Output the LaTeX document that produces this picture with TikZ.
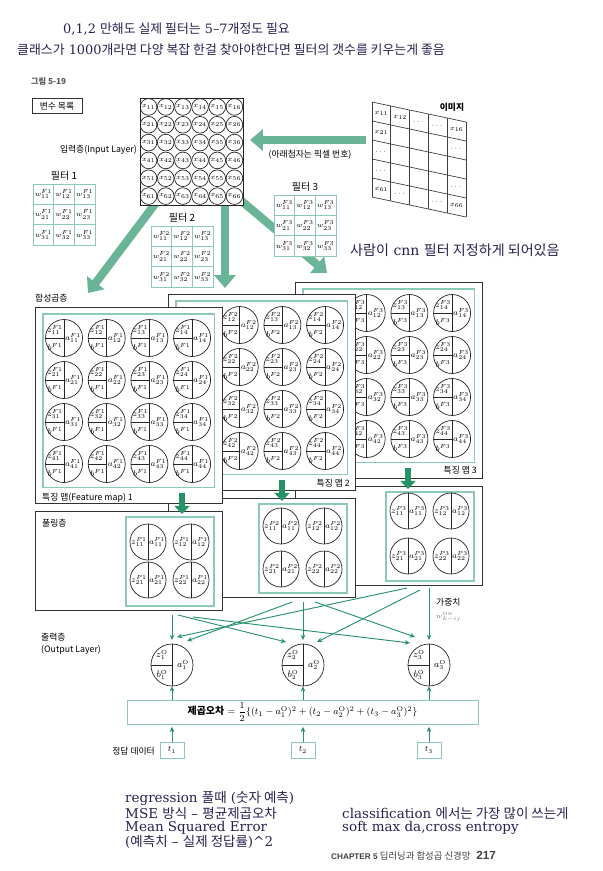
\documentclass[tikz,border=0pt]{standalone}
\usepackage{fontspec}
\usepackage{amsmath}
\setsansfont{Liberation Sans}
\newfontfamily\kr{Noto Sans CJK KR}
\newfontfamily\notefont{DejaVu Serif}
\DeclareMathSizes{6.5}{6.5}{4}{3}
\DeclareMathSizes{7}{7}{4}{3}
\DeclareMathSizes{8}{8}{5}{4}
\usetikzlibrary{arrows.meta}
\usetikzlibrary{calc}

\definecolor{bandgreen}{RGB}{106,180,152}
\definecolor{linegreen}{RGB}{38,146,104}
\definecolor{framegreen}{RGB}{140,202,178}
\definecolor{inkblue}{RGB}{40,32,80}

\begin{document}
\begin{tikzpicture}[x=0.03cm, y=-0.03cm,
  lbl/.style={font=\kr\fontsize{7.5}{10}\selectfont, inner sep=0pt},
  note/.style={font=\notefont\fontsize{11}{13}\selectfont, text=inkblue, inner sep=0pt, anchor=west},
  bignote/.style={note, font=\notefont\fontsize{11.5}{13}\selectfont},
  pixel/.style={circle, draw=black!85, line width=0.6pt, minimum size=0.5cm, inner sep=0pt, font=\fontsize{6.5}{7}\selectfont},
  imgtxt/.style={inner sep=0pt, font=\fontsize{6.5}{7}\selectfont},
  wcell/.style={draw=framegreen, fill=white, line width=0.6pt, minimum width=0.62cm, minimum height=0.61cm, inner sep=0pt, font=\fontsize{6.5}{7}\selectfont},
  mapbox/.style={draw=black!80, fill=white, line width=0.8pt, minimum width=5.61cm, inner sep=0pt},
  inbox/.style={draw=framegreen, line width=0.9pt},
  cell/.style={circle, draw=black!85, fill=white, line width=0.6pt, minimum size=1.11cm, inner sep=0pt},
  poolcell/.style={cell, minimum size=1.08cm},
  outcell/.style={cell, minimum size=1.26cm},
  sym/.style={inner sep=0pt, font=\fontsize{7}{8}\selectfont},
  osym/.style={inner sep=0pt, font=\fontsize{8}{9}\selectfont},
  tbox/.style={draw=framegreen, line width=0.8pt, minimum width=0.72cm, minimum height=0.48cm, inner sep=0pt, font=\fontsize{7}{8}\selectfont},
  band/.style={bandgreen, line width=7pt, -{Triangle[length=11pt,width=18pt]}},
  down/.style={linegreen, line width=5.5pt, -{Triangle[length=7pt,width=13pt]}},
  wire/.style={linegreen, line width=0.8pt, -{Stealth[length=4.5pt,width=4pt]}}]

  \useasboundingbox (0,0) rectangle (602,871);

  % notes written on the page
  \node[note] (note1) at (63,29) {0,1,2 {\kr 만해도 실제 필터는} 5–7{\kr 개정도 필요}};
  \node[note] (note2) at (17,50) {{\kr 클래스가} 1000{\kr 개라면 다양 복잡 한걸 찾아야한다면 필터의 갯수를 키우는게 좋음}};
  \node[note, font=\notefont\fontsize{12}{13}\selectfont] (note3) at (350,250) {{\kr 사람이} cnn {\kr 필터 지정하게 되어있음}};
  \node[bignote] (note4) at (125,798) {regression {\kr 풀때} ({\kr 숫자 예측})};
  \node[bignote] (note5) at (125,813) {MSE {\kr 방식} – {\kr 평균제곱오차}};
  \node[bignote] (note6) at (125,828) {Mean Squared Error};
  \node[bignote] (note7) at (125,842) {({\kr 예측치} – {\kr 실제 정답률})\textasciicircum 2};
  \node[bignote] (note8) at (342,813) {classification {\kr 에서는 가장 많이 쓰는게}};
  \node[bignote] (note9) at (342,828) {soft max da,cross entropy};

  \node[anchor=west, text=black!65, font=\kr\bfseries\fontsize{7}{8}\selectfont] (fig) at (27,81) {그림 5-19};
  \node[draw=black!80, line width=0.7pt, minimum width=1.5cm, minimum height=0.42cm, font=\kr\fontsize{7.5}{9}\selectfont] (vars) at (57,106) {변수 목록};

  % thick arrows out of the input layer
  \coordinate (srcA) at (158,200);
  \coordinate (srcB) at (225,200);
  \coordinate (srcC) at (238,198);
  \coordinate (tipA) at (88,293);
  \coordinate (tipB) at (225,288);
  \coordinate (tipC) at (327,273);
  \draw[band] (srcA) -- (tipA);
  \draw[band] (srcB) -- (tipB);
  \draw[band] (srcC) -- (tipC);

  % filters
  \foreach \k/\fx/\fy in {1/33/184, 2/151/226, 3/274/195} {
    \node[font=\kr\fontsize{8.5}{10}\selectfont, inner sep=0pt] (ft\k) at (\fx+31,\fy-8) {필터 \k};
    \foreach \i in {1,2,3}
      \foreach \j in {1,2,3}
        \node[wcell] (w\k\i\j) at (\fx-10.33+20.67*\j, \fy-10.17+20.33*\i) {$w^{F\k}_{\i\j}$};
  }

  % image
  \foreach \c in {0,...,5}
    \draw[black!75, line width=0.6pt] (372+18.8*\c,102+4*\c) -- ++(0,95);
  \foreach \r in {0,...,5}
    \draw[black!75, line width=0.6pt] (372,102+19*\r) -- (466,122+19*\r);
  \foreach \r/\c/\e in {0/0/x_{11}, 0/1/x_{12}, 0/2/\cdots, 0/3/\cdots, 0/4/x_{16},
      1/0/x_{21}, 1/4/\cdots, 2/0/\cdots, 3/0/\cdots, 3/4/\cdots,
      4/0/x_{61}, 4/1/\cdots, 4/3/\cdots, 4/4/x_{66}}
    \node[imgtxt] (im\r\c) at (381.4+18.8*\c, 113.5+4*\c+19*\r) {$\e$};
  \node[font=\kr\bfseries\fontsize{7.5}{9}\selectfont, inner sep=0pt] (imglbl) at (452,107) {이미지};
  \coordinate (imgsrc) at (366,140);
  \coordinate (imgtip) at (250,140);
  \draw[band] (imgsrc) -- (imgtip);
  \node[lbl] (sublbl) at (310,155) {(아래첨자는 픽셀 번호)};

  % input layer
  \node[draw=black!85, fill=white, line width=0.9pt, minimum width=3.09cm, minimum height=3.21cm, anchor=north west, inner sep=0pt] (input) at (140,98) {};
  \foreach \r in {1,...,6}
    \foreach \c in {1,...,6}
      \node[pixel] (x\r\c) at (131.4+17.17*\c, 89.1+17.83*\r) {$x_{\r\c}$};
  \node[lbl, anchor=east] (inlbl) at (137,150) {입력층(Input Layer)};

  \node[lbl, anchor=west] (convlbl) at (35,298) {합성곱층};

  % feature maps and pooling, back to front
  \foreach \m/\x/\y/\cs/\pa/\pb/\lab/\lx/\ly/\an/\ax in {
      3/295/282/2/25/70/{특징 맵 3}/477/470/east/113,
      2/168/294/2/28/71/{특징 맵 2}/350/483/east/114,
      1/35/307/1/31/69/{특징 맵(Feature map) 1}/42/498/west/147} {
    \node[mapbox, minimum height=5.88cm, anchor=north west] (fm\m) at (\x,\y) {};
    \draw[inbox] ($(fm\m.north west)+(8,7)$) rectangle ($(fm\m.south east)+(-8,-16)$);
    \foreach \r in {1,...,4}
      \foreach \c in {\cs,...,4} {
        \node[cell] (f\m\r\c) at (\x-13.7+42.7*\c, \y-11+42*\r) {};
        \draw[black!85, line width=0.6pt] (f\m\r\c.north) -- (f\m\r\c.south) (f\m\r\c.west) -- (f\m\r\c.center);
        \node[sym] at ($(f\m\r\c)+(-9,-8)$) {$z^{F\m}_{\r\c}$};
        \node[sym] at ($(f\m\r\c)+(-9,9)$) {$b^{F\m}$};
        \node[sym] at ($(f\m\r\c)+(9,0)$) {$a^{F\m}_{\r\c}$};
      }
    \node[lbl, anchor=\an] (fl\m) at (\lx,\ly) {\lab};
    \node[mapbox, minimum height=2.97cm, anchor=north west] (pl\m) at (\x,\y+204) {};
    \draw[inbox] ($(pl\m.north west)+(91,6)$) rectangle ($(pl\m.north west)+(179,95)$);
    \foreach \r/\py in {1/\pa, 2/\pb}
      \foreach \c in {1,2} {
        \node[poolcell] (p\m\r\c) at (\x+70+43*\c, \y+204+\py) {};
        \draw[black!85, line width=0.6pt] (p\m\r\c.north) -- (p\m\r\c.south);
        \node[sym] at ($(p\m\r\c)+(-9,0)$) {$z^{P\m}_{\r\c}$};
        \node[sym] at ($(p\m\r\c)+(9,0)$) {$a^{P\m}_{\r\c}$};
      }
    \draw[down] ($(fm\m.south west)+(\ax,-11)$) -- ($(pl\m.north west)+(\ax,3)$);
  }
  \node[lbl, anchor=west] (poollbl) at (42,523) {풀링층};

  % output layer
  \node[draw=framegreen, line width=0.8pt, minimum width=10.53cm, minimum height=0.72cm, inner sep=0pt, font=\fontsize{8.5}{10}\selectfont] (err) at (302.5,712)
    {{\kr\bfseries 제곱오차} $= \dfrac{1}{2}\{(t_1-a^{\mathrm{O}}_1)^2+(t_2-a^{\mathrm{O}}_2)^2+(t_3-a^{\mathrm{O}}_3)^2\}$};
  \foreach \k/\ox in {1/172, 2/303, 3/429} {
    \node[outcell] (o\k) at (\ox,665) {};
    \draw[black!85, line width=0.6pt] (o\k.north) -- (o\k.south) (o\k.west) -- (o\k.center);
    \node[osym] at ($(o\k)+(-10,-10)$) {$z^{\mathrm{O}}_{\k}$};
    \node[osym] at ($(o\k)+(-10,10)$) {$b^{\mathrm{O}}_{\k}$};
    \node[osym] at ($(o\k)+(11,0)$) {$a^{\mathrm{O}}_{\k}$};
    \node[tbox] (t\k) at (\ox,750) {$t_{\k}$};
    \draw[wire, shorten >=2pt] (t\k.north) -- (t\k.north |- err.south);
    \draw[wire] (err.north -| o\k) -- (o\k.south);
  }

  % weights from the pooled maps to the outputs
  \foreach \a/\b/\sx/\sy/\tx/\ty in {1/1/172/615/172/640, 1/2/178/615/286/642, 1/3/193/617/410/643,
      2/1/292/602/187/641, 2/2/303/602/303/640, 2/3/315/602/415/637,
      3/1/407/588/177/637, 3/2/420/590/317/642, 3/3/429/588/429/640} {
    \coordinate (s\a\b) at (\sx,\sy);
    \coordinate (e\a\b) at (\tx,\ty);
    \draw[wire] (s\a\b) -- (e\a\b);
  }

  \node[lbl, anchor=west] (wlbl) at (436,602) {가중치};
  \node[anchor=west, inner sep=0pt, text=black!55, font=\fontsize{6.5}{7}\selectfont] (wsym) at (436,617) {$w^{\mathrm{O}n}_{k-ij}$};
  \node[lbl, anchor=north west, align=left] (outlbl) at (41,633) {출력층\\(Output Layer)};
  \node[lbl, anchor=east] (tlbl) at (155,751) {정답 데이터};

  % page footer
  \node[anchor=west, inner sep=0pt, text=black!75] (foot) at (331,856)
    {\sffamily\bfseries\fontsize{7}{8}\selectfont CHAPTER 5 {\kr\mdseries\fontsize{8}{9}\selectfont 딥러닝과 합성곱 신경망}\hspace{5pt}{\fontsize{10}{11}\selectfont 217}};
\end{tikzpicture}
\end{document}
